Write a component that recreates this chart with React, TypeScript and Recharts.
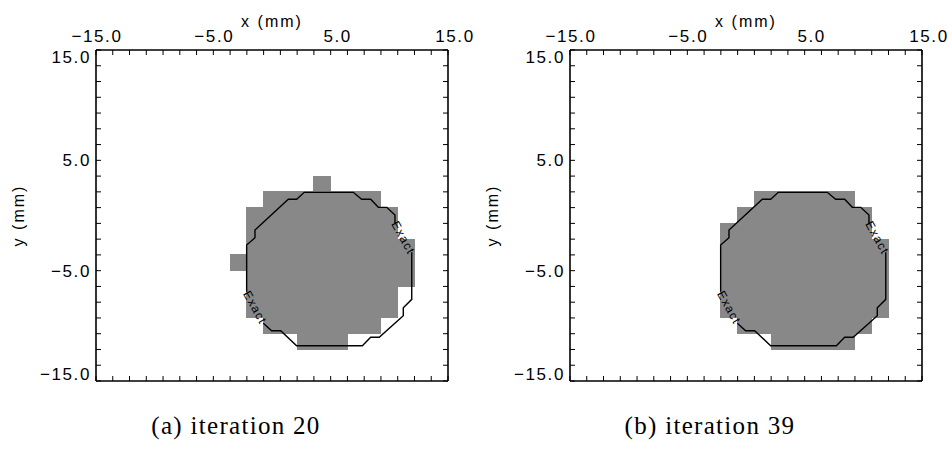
import React from 'react';
import { ComposedChart, XAxis, YAxis, Line, Scatter, ReferenceArea } from 'recharts';

// axes: -15..15 mm, labelled every 10 mm, 7 grid cells between labels
const majorTicks = [-15, -5, 5, 15];
const cellsPerMajor = 7;

// gray cells: [row from bottom, first column, last column] on the 21 x 21 grid
const cellsIter20 = [
  [12, 13, 13],
  [11, 10, 16],
  [10, 9, 17],
  [9, 9, 17],
  [8, 9, 18],
  [7, 8, 18],
  [6, 9, 18],
  [5, 9, 17],
  [4, 9, 17],
  [3, 10, 16],
  [2, 12, 14],
];
const cellsIter39 = [
  [11, 11, 16],
  [10, 10, 17],
  [9, 9, 17],
  [8, 9, 18],
  [7, 9, 18],
  [6, 9, 18],
  [5, 9, 18],
  [4, 9, 18],
  [3, 10, 17],
  [2, 12, 16],
];

// exact boundary (mm), split in two where the "Exact" labels sit
const exactUpper = [
  { x: -2.16, y: -6.91 },
  { x: -2.16, y: -2.67 },
  { x: -1.45, y: -2.01 },
  { x: -1.45, y: -1.31 },
  { x: 1.39, y: 1.47 },
  { x: 2.1, y: 1.47 },
  { x: 2.75, y: 2.1 },
  { x: 6.93, y: 2.1 },
  { x: 7.64, y: 1.47 },
  { x: 8.41, y: 1.47 },
  { x: 9.06, y: 0.74 },
  { x: 9.78, y: 0.74 },
  { x: 10.48, y: 0.05 },
  { x: 10.48, y: -0.71 },
];
const exactLower = [
  { x: 11.91, y: -3.34 },
  { x: 11.91, y: -7.6 },
  { x: 11.19, y: -8.36 },
  { x: 11.19, y: -9.08 },
  { x: 9.14, y: -11.04 },
  { x: 8.41, y: -11.04 },
  { x: 7.7, y: -11.8 },
  { x: 2.1, y: -11.8 },
  { x: 0.74, y: -10.44 },
  { x: -0.03, y: -10.44 },
  { x: -0.74, y: -9.77 },
];
const exactLabels = [
  { x: 11.19, y: -2.02 },
  { x: -1.45, y: -8.34 },
];

const panels = [
  { caption: '(a) iteration 20', cells: cellsIter20 },
  { caption: '(b) iteration 39', cells: cellsIter39 },
];

const lo = majorTicks[0];
const hi = majorTicks[majorTicks.length - 1];
const step = (majorTicks[1] - majorTicks[0]) / cellsPerMajor;
const nCells = Math.round((hi - lo) / step);
const gridTicks = Array.from({ length: nCells + 1 }, (_, i) => +(lo + i * step).toFixed(6));

const isMajor = (v: number) => majorTicks.some((m) => Math.abs(m - v) < 1e-4);
const fmt = (v: number) => `${v < 0 ? '\u2212' : ''}${Math.abs(v).toFixed(1)}`;

const sans = { fontFamily: 'Liberation Sans, Arial, sans-serif', fontSize: 17, letterSpacing: 1.6, fill: '#000' };
const TICK = 5;

const TopTick = (p: any) => {
  const v = p.payload.value;
  return (
    <g>
      <line x1={p.x} x2={p.x} y1={p.y} y2={p.y + TICK} stroke="#000" strokeWidth={1} />
      {isMajor(v) && (
        <text x={p.x + (v < 0 ? 1 : 7)} y={p.y - 8} textAnchor="middle" {...sans}>
          {fmt(v)}
        </text>
      )}
    </g>
  );
};

const BottomTick = (p: any) => (
  <line x1={p.x} x2={p.x} y1={p.y} y2={p.y - TICK} stroke="#000" strokeWidth={1} />
);

const LeftTick = (p: any) => {
  const v = p.payload.value;
  const dy = v === hi ? 13 : v === lo ? -1 : 6;
  return (
    <g>
      <line x1={p.x} x2={p.x + TICK} y1={p.y} y2={p.y} stroke="#000" strokeWidth={1} />
      {isMajor(v) && (
        <text x={p.x - 5} y={p.y + dy} textAnchor="end" {...sans}>
          {fmt(v)}
        </text>
      )}
    </g>
  );
};

const RightTick = (p: any) => (
  <line x1={p.x} x2={p.x - TICK} y1={p.y} y2={p.y} stroke="#000" strokeWidth={1} />
);

const ExactLabel = (p: any) => (
  <text
    x={p.cx}
    y={p.cy}
    textAnchor="middle"
    dominantBaseline="central"
    transform={`rotate(61 ${p.cx} ${p.cy})`}
    fontFamily="Liberation Sans, Arial, sans-serif"
    fontSize={12}
    letterSpacing={1.2}
    fill="#000"
  >
    Exact
  </text>
);

const frame = { stroke: '#000', strokeWidth: 1.6 };

function Panel({ caption, cells }: { caption: string; cells: number[][] }) {
  return (
    <ComposedChart width={474} height={458} margin={{ top: 20, right: 16, bottom: 67, left: 56 }}>
      <XAxis
        xAxisId="top"
        orientation="top"
        type="number"
        dataKey="x"
        domain={[lo, hi]}
        allowDataOverflow
        ticks={gridTicks}
        interval={0}
        height={30}
        tickSize={0}
        tickMargin={0}
        tickLine={false}
        axisLine={frame}
        tick={TopTick}
        label={{
          content: (p: any) => (
            <text
              x={p.viewBox.x + p.viewBox.width / 2}
              y={p.viewBox.y + p.viewBox.height - 23}
              textAnchor="middle"
              {...sans}
              fontSize={16}
              letterSpacing={2}
            >
              x (mm)
            </text>
          ),
        }}
      />
      <XAxis
        xAxisId="bottom"
        orientation="bottom"
        type="number"
        dataKey="x"
        domain={[lo, hi]}
        allowDataOverflow
        ticks={gridTicks}
        interval={0}
        height={10}
        tickSize={0}
        tickMargin={0}
        tickLine={false}
        axisLine={frame}
        tick={BottomTick}
        label={{
          content: (p: any) => (
            <text
              x={p.viewBox.x + p.viewBox.width / 2 - 36}
              y={p.viewBox.y + 53}
              textAnchor="middle"
              fontFamily="Liberation Serif, Times New Roman, serif"
              fontSize={25}
              letterSpacing={1.3}
              fill="#000"
            >
              {caption}
            </text>
          ),
        }}
      />
      <YAxis
        yAxisId="left"
        orientation="left"
        type="number"
        domain={[lo, hi]}
        allowDataOverflow
        ticks={gridTicks}
        interval={0}
        width={40}
        tickSize={0}
        tickMargin={0}
        tickLine={false}
        axisLine={frame}
        tick={LeftTick}
        label={{
          content: (p: any) => {
            const x = p.viewBox.x + p.viewBox.width - 72;
            const y = p.viewBox.y + p.viewBox.height / 2;
            return (
              <text
                x={x}
                y={y}
                transform={`rotate(-90 ${x} ${y})`}
                textAnchor="middle"
                {...sans}
                fontSize={16}
                letterSpacing={2}
              >
                y (mm)
              </text>
            );
          },
        }}
      />
      <YAxis
        yAxisId="right"
        orientation="right"
        type="number"
        domain={[lo, hi]}
        allowDataOverflow
        ticks={gridTicks}
        interval={0}
        width={10}
        tickSize={0}
        tickMargin={0}
        tickLine={false}
        axisLine={frame}
        tick={RightTick}
      />
      {cells.map(([row, c0, c1]) => (
        <ReferenceArea
          key={`${row}-${c0}`}
          xAxisId="top"
          yAxisId="left"
          x1={lo + c0 * step}
          x2={lo + (c1 + 1) * step}
          y1={lo + row * step}
          y2={lo + (row + 1) * step}
          fill="#888888"
          fillOpacity={1}
          stroke="#888888"
          strokeWidth={1}
          shapeRendering="crispEdges"
          ifOverflow="visible"
        />
      ))}
      <Line
        data={exactUpper}
        dataKey="y"
        xAxisId="top"
        yAxisId="left"
        type="linear"
        stroke="#000"
        strokeWidth={1.4}
        dot={false}
        isAnimationActive={false}
      />
      <Line
        data={exactLower}
        dataKey="y"
        xAxisId="top"
        yAxisId="left"
        type="linear"
        stroke="#000"
        strokeWidth={1.4}
        dot={false}
        isAnimationActive={false}
      />
      <Scatter data={exactLabels} dataKey="y" xAxisId="top" yAxisId="left" shape={ExactLabel} isAnimationActive={false} />
    </ComposedChart>
  );
}

export default function App() {
  return (
    <div style={{ position: 'absolute', left: 0, top: 0, width: 948, height: 458, background: '#fff', display: 'flex' }}>
      {panels.map((p) => (
        <Panel key={p.caption} caption={p.caption} cells={p.cells} />
      ))}
    </div>
  );
}
